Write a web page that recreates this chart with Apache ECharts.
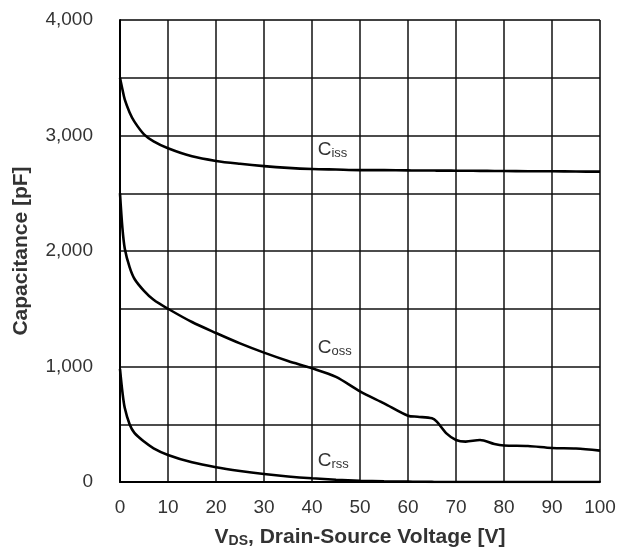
<!DOCTYPE html>
<html>
<head>
<meta charset="utf-8">
<script src="https://cdn.jsdelivr.net/npm/echarts@6/dist/echarts.min.js"></script>
<style>
  html, body { margin: 0; padding: 0; background: #fff; }
  #main { width: 621px; height: 556px; }
</style>
</head>
<body>
<div id="main"></div>
<script>
// drain-source voltage samples [V]
const vds = [0, 0.5, 1, 2, 3, 5, 7, 10, 15, 20, 25, 30, 35, 40, 45, 50, 55, 60, 62, 65, 66, 68, 70, 72, 75, 78, 80, 85, 90, 95, 100];
// capacitances [pF]
const ciss = [3500, 3400, 3310, 3200, 3120, 3010, 2950, 2890, 2820, 2780, 2755, 2735, 2720, 2710, 2705, 2700, 2700, 2698, 2697, 2697, 2696, 2696, 2695, 2695, 2694, 2693, 2692, 2691, 2690, 2688, 2687];
const coss = [2500, 2200, 2020, 1860, 1760, 1655, 1578, 1500, 1385, 1290, 1200, 1120, 1048, 985, 910, 785, 681, 574, 565, 551, 522, 421, 364, 350, 364, 329, 316, 312, 295, 290, 272];
const crss = [980, 780, 640, 500, 425, 350, 292, 234, 170, 127, 95, 69, 48, 32, 20, 11, 6, 3, 2, 1, 0, 0, 0, 0, 0, 0, 0, 0, 0, 0, 0];
const yTicks = [0, 1000, 2000, 3000, 4000];

const pairs = (ys) => vds.map((v, i) => [v, ys[i]])

const curveLabel = (sub, x, y) => ({
  symbol: 'circle',
  symbolSize: 0,
  silent: true,
  data: [{
    coord: [x, y],
    label: {
      show: true,
      position: 'right',
      distance: 0,
      formatter: '{c|C}{s|' + sub + '}',
      rich: {
        c: { fontFamily: 'Liberation Sans', fontSize: 19, color: '#333' },
        s: { fontFamily: 'Liberation Sans', fontSize: 13, color: '#333', verticalAlign: 'bottom', padding: [7, 0, 0, 0] }
      }
    }
  }]
})

const lineSeries = (name, ys, sub, lx, ly) => ({
  name: name,
  type: 'line',
  data: pairs(ys),
  smooth: 0.3,
  showSymbol: false,
  lineStyle: { color: '#000', width: 2.6 },
  markPoint: curveLabel(sub, lx, ly),
  z: 5
})

const chart = echarts.init(document.getElementById('main'))
chart.setOption({
  animation: false,
  backgroundColor: '#fff',
  grid: {
    left: 120, right: 21, top: 20, bottom: 74,
    show: true, borderColor: '#aaa', borderWidth: 1
  },
  xAxis: {
    type: 'value',
    min: 0, max: 100, interval: 10,
    name: '{b|V}{s|DS}{b|, Drain-Source Voltage [V]}',
    nameLocation: 'middle',
    nameGap: 44,
    nameTextStyle: {
      rich: {
        b: { fontFamily: 'Liberation Sans', fontSize: 21, fontWeight: 'bold', color: '#333' },
        s: { fontFamily: 'Liberation Sans', fontSize: 14, fontWeight: 'bold', color: '#333', verticalAlign: 'bottom', padding: [8, 0, 0, 0] }
      }
    },
    axisLine: { lineStyle: { color: '#000', width: 2 } },
    axisTick: { show: false },
    axisLabel: { fontFamily: 'Liberation Sans', fontSize: 19, color: '#333', margin: 16 },
    splitLine: { lineStyle: { color: '#111', width: 1.5 } }
  },
  yAxis: {
    type: 'value',
    min: 0, max: 4000, interval: 500,
    name: 'Capacitance [pF]',
    nameLocation: 'middle',
    nameGap: 88,
    nameTextStyle: { fontFamily: 'Liberation Sans', fontSize: 21, fontWeight: 'bold', color: '#333' },
    axisLine: { show: true, lineStyle: { color: '#000', width: 2 } },
    axisTick: { show: false },
    axisLabel: {
      fontFamily: 'Liberation Sans', fontSize: 19, color: '#333', margin: 27,
      formatter: (v) => yTicks.includes(v) ? v.toLocaleString('en-US') : ''
    },
    splitLine: { lineStyle: { color: '#111', width: 1.5 } }
  },
  series: [
    lineSeries('Ciss', ciss, 'iss', 41.2, 2874),
    lineSeries('Coss', coss, 'oss', 41.2, 1160),
    lineSeries('Crss', crss, 'rss', 41.2, 182)
  ]
})
</script>
</body>
</html>
